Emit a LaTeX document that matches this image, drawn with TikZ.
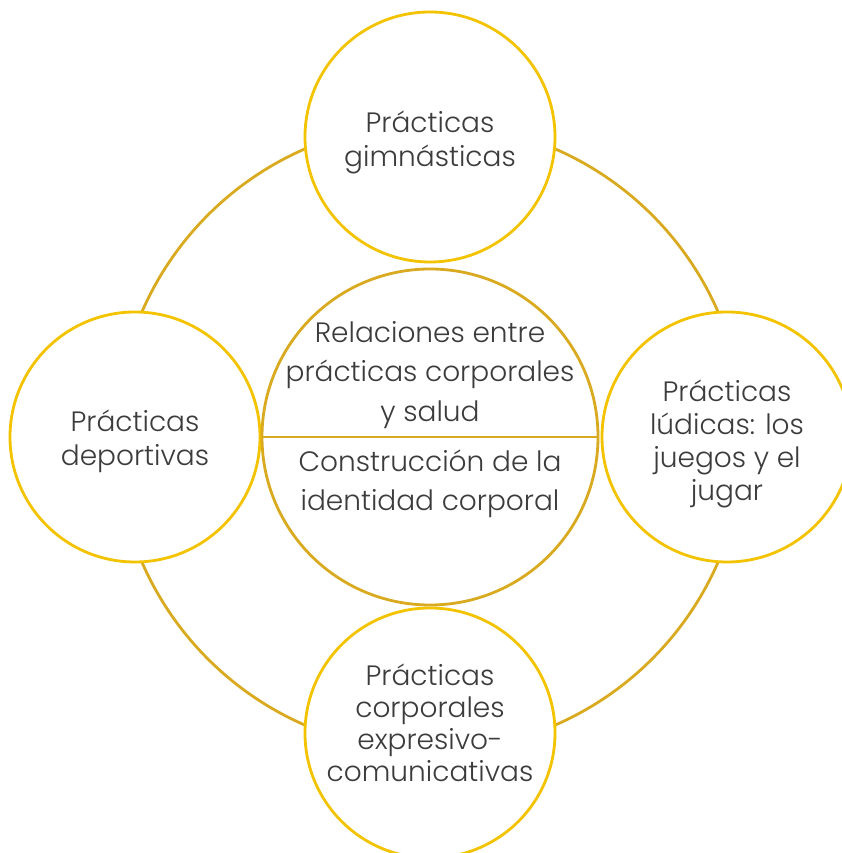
\documentclass[tikz,border=0pt]{standalone}
\usepackage{fontspec}
\IfFontExistsTF{Poppins Light}{\setmainfont{Poppins Light}}{\setmainfont{Poppins}}
\definecolor{ringgold}{HTML}{D9AA1F}
\definecolor{circyellow}{HTML}{F3C300}
\definecolor{txtgray}{HTML}{3C3C3C}
\tikzset{
  smallcirc/.style={circle, draw=circyellow, line width=2.8pt, fill=white,
    minimum size=250pt, inner sep=0pt},
  bigcirc/.style={circle, draw=ringgold, line width=2.8pt, fill=white,
    minimum size=336pt, inner sep=0pt},
  circtext/.style={align=center, text=txtgray, inner sep=0pt,
    font=\fontsize{28}{#1}\selectfont},
  circtext/.default=34,
  ringline/.style={draw=ringgold, line width=2.8pt}
}
\begin{document}
\begin{tikzpicture}[x=1pt,y=1pt]
\useasboundingbox (0,0) rectangle (842,853);
\coordinate (O) at (430,416);
\draw[ringline] (O) circle (314pt);
\node[smallcirc] (top) at (430,716) {};
\node[smallcirc] (left) at (135,416) {};
\node[smallcirc] (right) at (727,416) {};
\node[smallcirc] (bottom) at (430,120) {};
\node[bigcirc] (mid) at (O) {};
\draw[ringline] (mid.west) -- (mid.east);
\node[circtext] (toptext) at ([yshift=-5pt]top.center) {Prácticas\\gimnásticas};
\node[circtext] (lefttext) at ([yshift=-4pt]left.center) {Prácticas\\deportivas};
\node[circtext=33] (righttext) at ([yshift=-7pt]right.center) {Prácticas\\lúdicas: los\\juegos y el\\jugar};
\node[circtext=32] (bottomtext) at ([yshift=10pt]bottom.center) {Prácticas\\corporales\\expresivo-\\comunicativas};
\node[circtext=39.5] (upper) at (430,478) {Relaciones entre\\prácticas corporales\\y salud};
\node[circtext=39.5] (lower) at (430,369) {Construcción de la\\identidad corporal};
\end{tikzpicture}
\end{document}
